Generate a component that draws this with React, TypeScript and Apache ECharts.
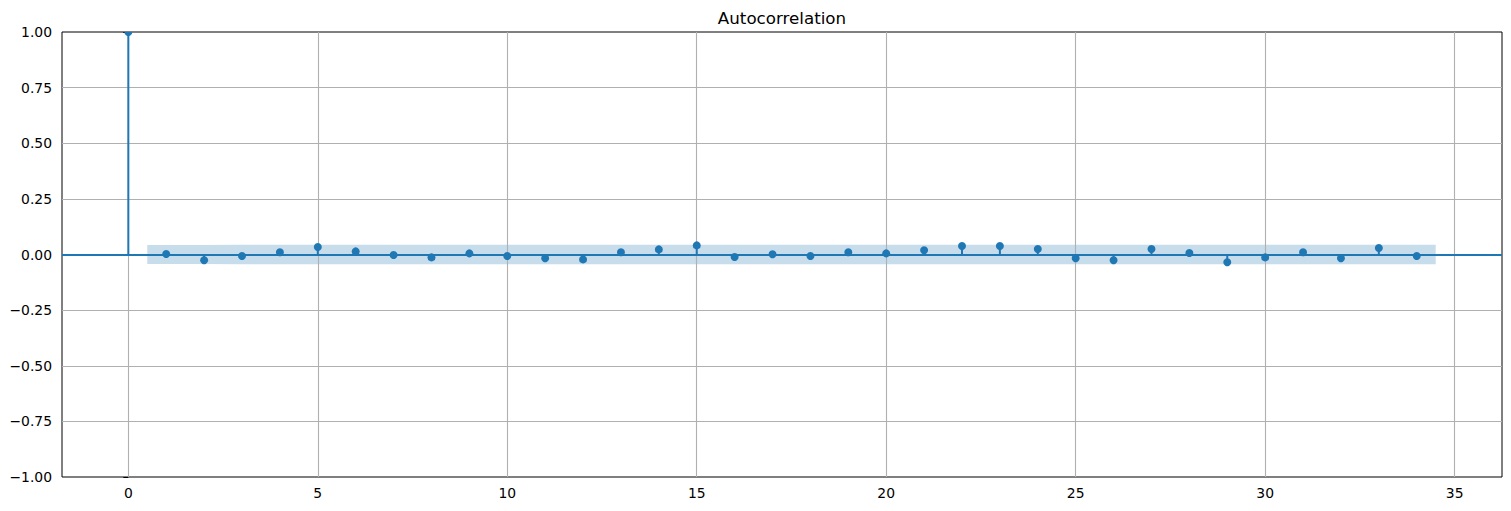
import React, { useEffect, useRef } from 'react';
import * as echarts from 'echarts';

const lags = [0, 1, 2, 3, 4, 5, 6, 7, 8, 9, 10, 11, 12, 13, 14, 15, 16, 17, 18, 19, 20, 21, 22, 23, 24, 25, 26, 27, 28, 29, 30, 31, 32, 33, 34];
const acfValues = [1, 0.002, -0.026, -0.007, 0.010, 0.034, 0.014, -0.002, -0.013, 0.005, -0.007, -0.017, -0.022, 0.010, 0.023, 0.041, -0.011, 0.001, -0.007, 0.010, 0.005, 0.019, 0.038, 0.038, 0.025, -0.017, -0.026, 0.025, 0.007, -0.035, -0.013, 0.010, -0.017, 0.029, -0.007];
// half-width of confidence band for lags 1..34
const confHalf = [0.0432, 0.0432, 0.0433, 0.0433, 0.0433, 0.0433, 0.0434, 0.0434, 0.0434, 0.0434, 0.0434, 0.0434, 0.0434, 0.0434, 0.0434, 0.0434, 0.0435, 0.0435, 0.0435, 0.0435, 0.0435, 0.0435, 0.0435, 0.0435, 0.0435, 0.0436, 0.0436, 0.0436, 0.0436, 0.0436, 0.0436, 0.0436, 0.0436, 0.0436];
const xTicks = [0, 5, 10, 15, 20, 25, 30, 35];
const yTicks = [-1, -0.75, -0.5, -0.25, 0, 0.25, 0.5, 0.75, 1];
const title = 'Autocorrelation';

const C0 = '#1f77b4';
const FONT = 'DejaVu Sans';

export default function App() {
  const ref = useRef<HTMLDivElement>(null);
  useEffect(() => {
    document.body.style.margin = '0';
    const chart = echarts.init(ref.current!, null, { renderer: 'svg', width: 1511, height: 511 });
    const bandLags = lags.slice(1).map((l, i, arr) => (i === 0 ? l - 0.5 : i === arr.length - 1 ? l + 0.5 : l));
    const gridLineData = [
      ...xTicks.map((v) => ({ xAxis: v })),
      ...yTicks.filter((v) => v > -1 && v < 1).map((v) => ({ yAxis: v })),
    ];
    const option: any = {
      animation: false,
      textStyle: { fontFamily: FONT },
      grid: { left: 62, top: 32, width: 1440, height: 445, show: true, borderColor: '#000', borderWidth: 1, backgroundColor: 'transparent' },
      graphic: [
        {
          type: 'text',
          x: 782,
          y: 18,
          style: { text: title, textAlign: 'center', textVerticalAlign: 'middle', fontSize: 16.7, fontFamily: FONT, fill: '#000' },
        },
      ],
      xAxis: {
        type: 'value',
        min: -1.75,
        max: 36.25,
        axisLine: { show: false },
        splitLine: { show: false },
        axisTick: { show: true, customValues: xTicks, length: 5, lineStyle: { color: '#000', width: 1 } },
        axisLabel: { customValues: xTicks, fontSize: 13.9, color: '#000', margin: 9, fontFamily: FONT },
      },
      yAxis: {
        type: 'value',
        min: -1,
        max: 1,
        interval: 0.25,
        axisLine: { show: false },
        splitLine: { show: false },
        axisTick: { show: true, length: 5, lineStyle: { color: '#000', width: 1 } },
        axisLabel: {
          fontSize: 13.9,
          color: '#000',
          margin: 10,
          fontFamily: FONT,
          formatter: (v: number) => (v < 0 ? '\u2212' : '') + Math.abs(v).toFixed(2),
        },
      },
      series: [
        {
          type: 'custom',
          z: 1,
          data: [[0, 0]],
          clip: true,
          renderItem: (params: any, api: any) => {
            if (params.dataIndex !== 0) return null;
            const upper = bandLags.map((x, i) => api.coord([x, confHalf[i]]));
            const lower = bandLags.map((x, i) => api.coord([x, -confHalf[i]])).reverse();
            return {
              type: 'polygon',
              shape: { points: [...upper, ...lower] },
              style: { fill: 'rgba(31,119,180,0.25)', stroke: 'none' },
            };
          },
          markLine: {
            silent: true,
            z: 2,
            symbol: ['none', 'none'],
            label: { show: false },
            lineStyle: { color: '#b0b0b0', width: 1.1, type: 'solid' },
            data: gridLineData,
          },
        },
        {
          type: 'custom',
          z: 4,
          clip: true,
          data: lags.map((l, i) => [l, acfValues[i]]),
          renderItem: (params: any, api: any) => {
            const x = api.value(0);
            const y = api.value(1);
            const p0 = api.coord([x, 0]);
            const p1 = api.coord([x, y]);
            return {
              type: 'group',
              children: [
                { type: 'line', shape: { x1: p0[0], y1: p0[1], x2: p1[0], y2: p1[1] }, style: { stroke: C0, lineWidth: 2 } },
                { type: 'circle', shape: { cx: p1[0], cy: p1[1], r: 4 }, style: { fill: C0, stroke: 'none' } },
              ],
            };
          },
          markLine: {
            silent: true,
            z: 3,
            symbol: ['none', 'none'],
            label: { show: false },
            lineStyle: { color: C0, width: 2, type: 'solid' },
            data: [{ yAxis: 0 }],
          },
        },
      ],
    };
    chart.setOption(option);
    return () => chart.dispose();
  }, []);
  return <div ref={ref} style={{ width: 1511, height: 511 }} />;
}
